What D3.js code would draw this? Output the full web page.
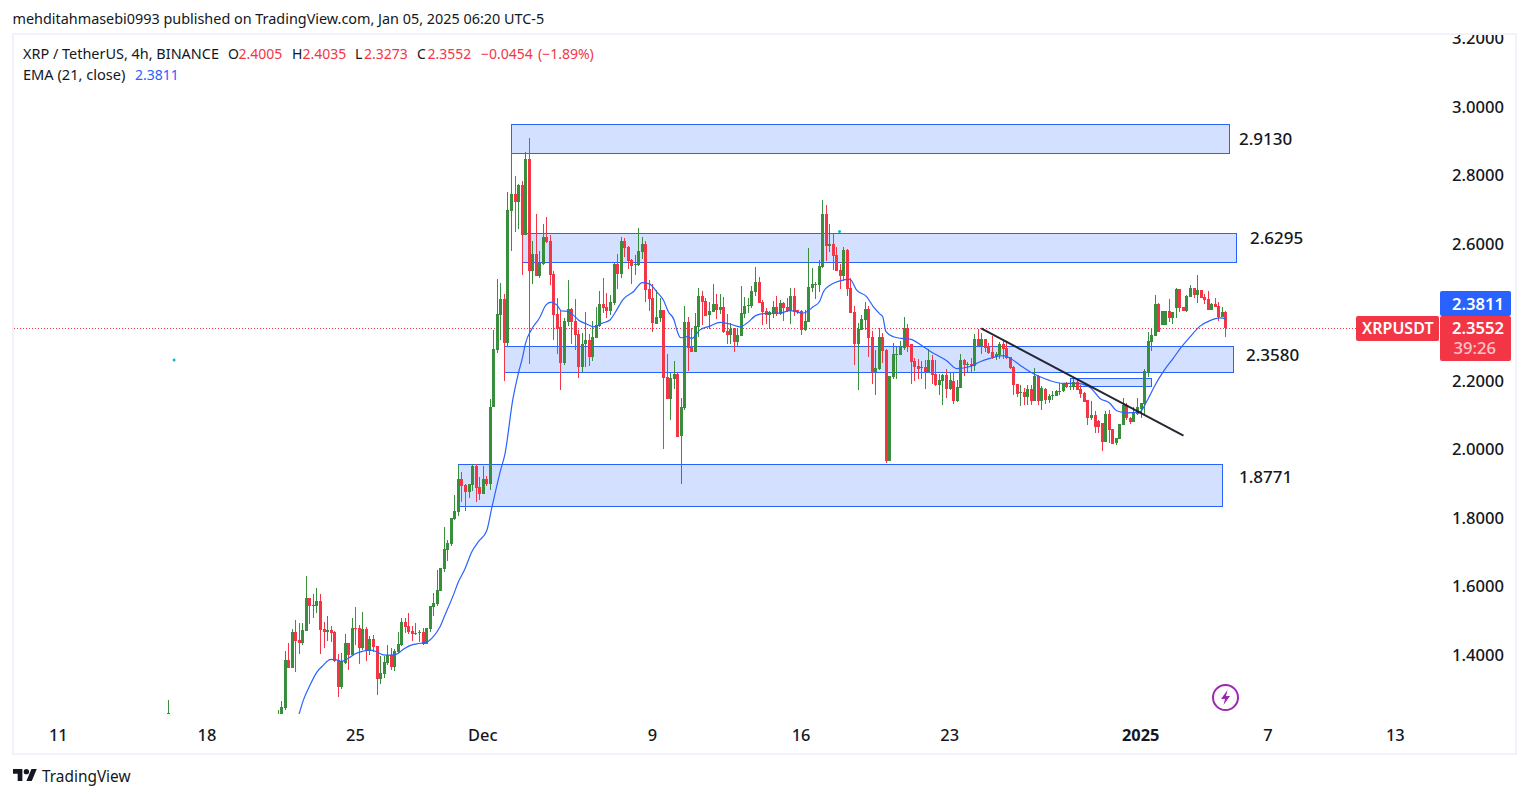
<!DOCTYPE html>
<html><head><meta charset="utf-8">
<script src="https://cdn.jsdelivr.net/npm/d3@7/dist/d3.min.js"></script>
<style>
html,body{margin:0;padding:0;background:#fff;overflow:hidden}
svg{display:block}
text{font-family:"Noto Sans",sans-serif;fill:#131722}
</style></head><body>
<svg id="c" width="1529" height="798"></svg>
<script>
// open, high, low, close per 4h bar, numbered 1..269 (bar 269 opened Jan 5 03:00 UTC-5)
const barsNov=[[1.20,1.240,1.19,1.21],[1.20,1.266,1.19,1.248],[1.247,1.412,1.240,1.386],[1.386,1.435,1.364,1.364],[1.364,1.475,1.364,1.468],[1.468,1.502,1.352,1.441],[1.444,1.494,1.404,1.436],[1.436,1.494,1.431,1.473],[1.471,1.631,1.471,1.567],[1.567,1.567,1.491,1.543],
[1.544,1.578,1.509,1.545],[1.544,1.595,1.523,1.558],[1.558,1.578,1.404,1.473],[1.476,1.497,1.421,1.468],[1.468,1.513,1.441,1.473],[1.473,1.485,1.438,1.465],[1.468,1.470,1.381,1.383],[1.386,1.403,1.278,1.307],[1.307,1.405,1.302,1.382],[1.377,1.461,1.374,1.436],
[1.436,1.436,1.357,1.400],[1.400,1.508,1.400,1.479],[1.479,1.540,1.430,1.476],[1.479,1.488,1.374,1.421],[1.421,1.526,1.415,1.476],[1.476,1.483,1.383,1.412],[1.412,1.456,1.400,1.447],[1.447,1.459,1.409,1.424],[1.427,1.427,1.284,1.331],[1.331,1.398,1.316,1.348],
[1.345,1.398,1.333,1.380],[1.376,1.430,1.371,1.400],[1.400,1.421,1.357,1.365],[1.365,1.418,1.354,1.412],[1.408,1.468,1.405,1.433],[1.430,1.508,1.427,1.497],[1.497,1.508,1.465,1.482],[1.485,1.523,1.462,1.468],[1.470,1.485,1.441,1.462],[1.465,1.494,1.459,1.462],
[1.465,1.473,1.438,1.469],[1.468,1.479,1.430,1.433],[1.434,1.479,1.433,1.479],[1.476,1.544,1.468,1.543],[1.541,1.580,1.514,1.552],[1.549,1.649,1.543,1.590],[1.587,1.654,1.587,1.654],[1.651,1.773,1.644,1.710],[1.707,1.736,1.675,1.727],[1.724,1.800,1.719,1.800],
[1.797,1.867,1.794,1.821],[1.818,1.955,1.806,1.914],[1.914,1.934,1.847,1.894],[1.896,1.899,1.821,1.876],[1.876,1.899,1.859,1.899],[1.896,1.958,1.879,1.952],[1.952,1.958,1.847,1.888],[1.891,1.919,1.853,1.870]];
const barsDecA=[[1.870,1.952,1.870,1.914],[1.914,1.923,1.894,1.899],[1.899,2.147,1.882,2.124],[2.125,2.349,2.125,2.293],[2.290,2.497,2.282,2.395],[2.392,2.486,2.319,2.439],[2.439,2.454,2.200,2.311],[2.311,2.751,2.300,2.699],[2.697,2.868,2.579,2.745],[2.745,2.798,2.635,2.722],
[2.722,2.775,2.643,2.772],[2.772,2.783,2.509,2.626],[2.626,2.868,2.626,2.847],[2.847,2.909,2.249,2.521],[2.521,2.608,2.483,2.570],[2.570,2.687,2.506,2.506],[2.506,2.579,2.500,2.545],[2.541,2.658,2.538,2.620],[2.620,2.678,2.601,2.605],[2.608,2.626,2.480,2.509],
[2.512,2.521,2.319,2.392],[2.395,2.442,2.279,2.352],[2.357,2.407,2.174,2.252],[2.252,2.384,2.246,2.375],[2.372,2.494,2.360,2.410],[2.410,2.413,2.308,2.372],[2.375,2.439,2.290,2.334],[2.337,2.349,2.209,2.241],[2.241,2.339,2.226,2.308],[2.308,2.401,2.241,2.319],
[2.319,2.337,2.244,2.270],[2.270,2.375,2.258,2.328],[2.325,2.416,2.325,2.363],[2.360,2.462,2.357,2.424],[2.424,2.500,2.398,2.413],[2.416,2.457,2.384,2.404],[2.404,2.451,2.392,2.430],[2.427,2.544,2.422,2.541],[2.541,2.570,2.468,2.512],[2.512,2.620,2.500,2.608],
[2.608,2.617,2.562,2.588],[2.591,2.594,2.526,2.550],[2.553,2.556,2.483,2.535],[2.537,2.567,2.509,2.541],[2.538,2.646,2.535,2.579],[2.576,2.620,2.556,2.600],[2.600,2.608,2.430,2.465],[2.468,2.494,2.404,2.439],[2.442,2.483,2.343,2.369],[2.366,2.465,2.366,2.386],
[2.384,2.442,2.372,2.407],[2.407,2.407,2.001,2.209],[2.212,2.279,2.147,2.147],[2.147,2.223,2.086,2.209],[2.206,2.258,2.177,2.220],[2.220,2.223,2.037,2.037],[2.039,2.149,1.899,2.124],[2.121,2.419,2.115,2.372],[2.372,2.387,2.229,2.296],[2.299,2.354,2.284,2.284],
[2.284,2.398,2.284,2.360],[2.357,2.471,2.328,2.448],[2.448,2.462,2.363,2.430],[2.433,2.442,2.389,2.389],[2.392,2.430,2.352,2.404],[2.401,2.483,2.401,2.424],[2.424,2.454,2.381,2.407],[2.407,2.454,2.395,2.416],[2.416,2.445,2.340,2.343],[2.346,2.395,2.308,2.334],
[2.334,2.369,2.308,2.352],[2.354,2.354,2.284,2.314],[2.314,2.352,2.302,2.334],[2.331,2.477,2.331,2.398],[2.395,2.445,2.384,2.419],[2.420,2.442,2.398,2.421],[2.419,2.477,2.413,2.462],[2.459,2.532,2.448,2.489],[2.489,2.503,2.427,2.427],[2.430,2.436,2.363,2.401],
[2.404,2.413,2.366,2.392],[2.392,2.404,2.352,2.401]];
const barsDecB=[[2.395,2.433,2.384,2.416],[2.416,2.448,2.389,2.395],[2.395,2.436,2.392,2.427],[2.427,2.430,2.375,2.413],[2.416,2.442,2.401,2.404],[2.404,2.471,2.366,2.448],[2.448,2.471,2.389,2.401],[2.407,2.407,2.395,2.401],[2.404,2.407,2.334,2.349],[2.349,2.407,2.346,2.375],
[2.372,2.588,2.372,2.474],[2.471,2.530,2.459,2.483],[2.480,2.489,2.439,2.483],[2.480,2.553,2.459,2.535],[2.532,2.728,2.530,2.687],[2.687,2.713,2.550,2.594],[2.594,2.658,2.576,2.600],[2.600,2.629,2.524,2.565],[2.567,2.591,2.521,2.521],[2.524,2.541,2.468,2.506],
[2.506,2.591,2.491,2.582],[2.582,2.585,2.448,2.468],[2.471,2.500,2.398,2.398],[2.401,2.419,2.246,2.308],[2.308,2.368,2.174,2.352],[2.349,2.392,2.349,2.381],[2.378,2.430,2.349,2.410],[2.410,2.419,2.270,2.325],[2.328,2.346,2.191,2.226],[2.226,2.290,2.159,2.238],
[2.235,2.354,2.232,2.328],[2.328,2.340,2.252,2.287],[2.290,2.293,1.961,1.966],[1.966,2.214,1.966,2.214],[2.212,2.311,2.206,2.279],[2.276,2.300,2.206,2.279],[2.276,2.317,2.276,2.299],[2.296,2.387,2.290,2.354],[2.354,2.366,2.284,2.299],[2.308,2.308,2.191,2.255],
[2.258,2.267,2.200,2.241],[2.244,2.264,2.206,2.235],[2.238,2.258,2.206,2.241],[2.241,2.261,2.177,2.226],[2.226,2.293,2.226,2.261],[2.261,2.276,2.191,2.217],[2.220,2.261,2.185,2.188],[2.188,2.220,2.159,2.203],[2.200,2.220,2.130,2.217],[2.217,2.235,2.150,2.177],
[2.177,2.223,2.174,2.203],[2.200,2.223,2.133,2.142],[2.142,2.203,2.139,2.182],[2.179,2.279,2.179,2.261],[2.261,2.264,2.214,2.246],[2.246,2.255,2.226,2.249],[2.249,2.267,2.226,2.245],[2.244,2.337,2.229,2.322],[2.322,2.352,2.302,2.302],[2.302,2.340,2.279,2.322],
[2.322,2.322,2.284,2.296],[2.302,2.311,2.279,2.282],[2.284,2.331,2.264,2.270],[2.270,2.284,2.261,2.279],[2.276,2.314,2.264,2.308],[2.308,2.319,2.264,2.293],[2.296,2.317,2.264,2.267],[2.270,2.270,2.235,2.238],[2.241,2.244,2.159,2.188],[2.191,2.191,2.153,2.162],
[2.165,2.188,2.127,2.168],[2.168,2.179,2.130,2.153],[2.153,2.188,2.130,2.176],[2.176,2.188,2.130,2.141],[2.141,2.238,2.141,2.214],[2.214,2.217,2.130,2.141],[2.141,2.185,2.115,2.179],[2.176,2.179,2.133,2.144],[2.144,2.162,2.136,2.156],[2.156,2.171,2.144,2.159],
[2.156,2.174,2.156,2.171],[2.169,2.193,2.159,2.172],[2.171,2.195,2.168,2.191],[2.191,2.197,2.179,2.182],[2.183,2.188,2.174,2.185],[2.183,2.209,2.174,2.197],[2.197,2.209,2.174,2.174],[2.176,2.188,2.150,2.162],[2.165,2.168,2.138,2.138],[2.144,2.144,2.071,2.092],
[2.092,2.141,2.086,2.101],[2.101,2.112,2.048,2.066],[2.083,2.086,2.048,2.066],[2.077,2.077,1.996,2.022],[2.022,2.112,2.022,2.104],[2.104,2.115,2.019,2.057],[2.060,2.060,2.016,2.016],[2.019,2.034,2.013,2.034],[2.031,2.074,2.031,2.074],[2.071,2.150,2.071,2.130],
[2.130,2.136,2.086,2.092],[2.092,2.095,2.074,2.080],[2.080,2.124,2.080,2.109],[2.104,2.150,2.101,2.124]];
const barsJan=[[2.118,2.136,2.092,2.136],[2.133,2.235,2.104,2.229],[2.225,2.343,2.211,2.317],[2.314,2.354,2.287,2.334],[2.331,2.451,2.331,2.424],[2.424,2.426,2.343,2.343],[2.363,2.404,2.363,2.404],[2.363,2.404,2.363,2.404],[2.404,2.439,2.372,2.384],[2.384,2.401,2.366,2.401],
[2.413,2.471,2.384,2.468],[2.468,2.468,2.401,2.413],[2.416,2.416,2.404,2.404],[2.404,2.451,2.401,2.448],[2.445,2.480,2.445,2.471],[2.471,2.471,2.442,2.451],[2.451,2.509,2.427,2.465],[2.465,2.465,2.442,2.442],[2.445,2.454,2.424,2.436],[2.439,2.462,2.407,2.407],
[2.407,2.426,2.407,2.424],[2.424,2.442,2.416,2.416],[2.419,2.430,2.375,2.386],[2.386,2.416,2.386,2.401],[2.4005,2.4035,2.3273,2.3552]];
const strayBarNumber=-30, strayBar=[1.20,1.269,1.19,1.23];

const emaBarNumbers=[6.94,8.17,10.05,11.94,13.82,15.7,16.93,18.91,20.89,22.96,25.13,27,28.9,30.8,32.67,34.55,36.44,38.3,40.2,43,44.9,46.8,48.2,50.6,52,53.9,55.8,57.65,60,61.4,63.8,65.2,67.35,68.95,70.18,70.93,72.72,74.89,76.77,78.19,79.79,81.2,83.09,84.5,85.92,88.27,90.16,92.51,94.87,96.28,98.64,101.47,104.01,105.99,108.07,109.95,111.36,112.97,113.91,114.85,116.74,117.96,120.3,123.14,125.97,128.8,131.6,133.5,136.34,139.17,142.9,145.76,149.5,152.36,154.06,155.2,157.5,159.9,162.7,164.6,167.4,169.3,171.2,171.96,172.9,175,177.3,179.7,183.46,186.3,190.06,192.9,196.66,199.5,202.3,206.1,208,210.8,213.6,216.44,219.27,223.04,226.8,230.6,233.4,236.2,238.1,240.95,244.7,246.6,249,251.3,254.1,256.5,258.9,261.7,264.5,267.3,269];
const emaValues=[1.228,1.269,1.313,1.350,1.371,1.387,1.388,1.382,1.391,1.405,1.412,1.415,1.410,1.401,1.400,1.403,1.417,1.428,1.433,1.438,1.454,1.483,1.517,1.576,1.614,1.653,1.702,1.731,1.763,1.828,1.935,1.989,2.144,2.222,2.271,2.308,2.351,2.383,2.422,2.430,2.422,2.404,2.403,2.392,2.378,2.366,2.358,2.368,2.378,2.399,2.439,2.460,2.487,2.483,2.460,2.436,2.402,2.378,2.344,2.326,2.329,2.324,2.349,2.360,2.371,2.366,2.358,2.368,2.392,2.397,2.398,2.405,2.398,2.417,2.431,2.460,2.482,2.492,2.496,2.465,2.446,2.417,2.395,2.387,2.344,2.329,2.324,2.322,2.300,2.281,2.259,2.236,2.242,2.256,2.266,2.274,2.266,2.246,2.227,2.212,2.201,2.193,2.193,2.181,2.149,2.135,2.113,2.107,2.110,2.140,2.188,2.227,2.266,2.300,2.329,2.360,2.376,2.384,2.3811];

const zoneLabels=["2.9130","2.6295","2.3580","1.8771"];
const zoneTops=[2.948,2.6301,2.3019,1.9562,2.2077];
const zoneBottoms=[2.8635,2.5458,2.2245,1.835,2.1832];
const zoneStartBars=[67,70,65,52,225];
const zoneEndBars=[269.9,272,271.1,268,248];
const trendBars=[199.8,257], trendPrices=[2.3535,2.0403];
const dotBars=[-28.4,159.75], dotPrices=[2.261,2.636];
const priceTicks=[1.4,1.6,1.8,2.0,2.2,2.6,2.8,3.0,3.2];
const timeTicks=["2024-11-11","2024-11-18","2024-11-25","2024-12-01","2024-12-09","2024-12-16","2024-12-23","2025-01-01","2025-01-07","2025-01-13"];
const timeTickLabels=["11","18","25","Dec","9","16","23","2025","7","13"];

const bars=[...barsNov,...barsDecA,...barsDecB,...barsJan].map((r,i)=>({n:i+1,o:r[0],h:r[1],l:r[2],c:r[3]}));
bars.unshift({n:strayBarNumber,o:strayBar[0],h:strayBar[1],l:strayBar[2],c:strayBar[3]});

const lastOpen=Date.UTC(2025,0,5,3);
const H4=4*3600*1000;
const barDate=n=>new Date(lastOpen-(269-n)*H4);
const x=d3.scaleUtc().domain([new Date(Date.UTC(2024,10,11)),new Date(lastOpen)]).range([56.1,1225.9]);
const y=d3.scaleLinear().domain([2,3]).range([449.5,106.7]);
const X=n=>x(barDate(n));
const px=n=>Math.floor(X(n));

const svg=d3.select("#c");
const defs=svg.append("defs");
defs.append("clipPath").attr("id","plot").append("rect").attr("x",14).attr("y",35).attr("width",1424).attr("height",679);
defs.append("clipPath").attr("id","pane").append("rect").attr("x",14).attr("y",35).attr("width",1501).attr("height",718);

const GREEN="#388e3c",RED="#f23645",BLUE="#2962ff";

// header
svg.append("text").attr("x",12.5).attr("y",24).attr("font-size",14.4).text("mehditahmasebi0993 published on TradingView.com, Jan 05, 2025 06:20 UTC-5");
// frame
svg.append("rect").attr("x",13).attr("y",34).attr("width",1503).attr("height",720).attr("fill","#fff").attr("stroke","#f0f3fa").attr("stroke-width",2);

const plot=svg.append("g").attr("clip-path","url(#plot)");
// zones
plot.selectAll("rect.zone").data(zoneTops).join("rect").attr("class","zone")
 .attr("x",(d,i)=>Math.floor(X(zoneStartBars[i]))+.5)
 .attr("y",d=>Math.floor(y(d))+.5)
 .attr("width",(d,i)=>Math.floor(X(zoneEndBars[i]))-Math.floor(X(zoneStartBars[i])))
 .attr("height",(d,i)=>Math.floor(y(zoneBottoms[i]))-Math.floor(y(d)))
 .attr("fill","#d4e0ff").attr("stroke",BLUE).attr("stroke-width",1);
// price line
plot.append("line").attr("x1",14).attr("x2",1438).attr("y1",Math.round(y(2.3552))+.5).attr("y2",Math.round(y(2.3552))+.5)
 .attr("stroke",RED).attr("stroke-width",1).attr("stroke-dasharray","1 2");
// candles
const g=plot.selectAll("g.bar").data(bars).join("g").attr("class","bar");
g.append("rect").attr("x",d=>px(d.n)).attr("width",1)
 .attr("y",d=>Math.round(y(d.h))).attr("height",d=>Math.max(1,Math.round(y(d.l))-Math.round(y(d.h))))
 .attr("fill",d=>d.c>=d.o?GREEN:RED);
g.append("rect").attr("x",d=>px(d.n)-1).attr("width",3)
 .attr("y",d=>Math.round(y(Math.max(d.o,d.c)))).attr("height",d=>Math.max(1,Math.abs(Math.round(y(d.o))-Math.round(y(d.c)))))
 .attr("fill",d=>d.c>=d.o?GREEN:RED);
// EMA
plot.append("path").attr("fill","none").attr("stroke",BLUE).attr("stroke-width",1.2)
 .attr("d",d3.line().x(d=>X(d)).y((d,i)=>y(emaValues[i])).curve(d3.curveMonotoneX)(emaBarNumbers));
// trend line
plot.append("path").attr("stroke","#131722").attr("stroke-opacity",.92).attr("stroke-width",2).attr("fill","none")
 .attr("d",d3.line().x(d=>X(d)).y((d,i)=>y(trendPrices[i]))(trendBars));
// dots
plot.selectAll("circle.dot").data(dotBars).join("circle").attr("class","dot")
 .attr("cx",d=>X(d)).attr("cy",(d,i)=>y(dotPrices[i])).attr("r",1.5).attr("fill","#00bcd4");

// zone labels
const labelXs=[1239,1250,1246,1239],labelYs=[145,243.5,360.5,482.5];
svg.selectAll("text.zl").data(zoneLabels).join("text").attr("class","zl")
 .attr("x",(d,i)=>labelXs[i]).attr("y",(d,i)=>labelYs[i]).attr("font-size",17).attr("font-weight",500).text(d=>d);

// axes
const ya=svg.append("g").attr("clip-path","url(#pane)").append("g").attr("transform","translate(1504,0)")
 .call(d3.axisRight(y).tickValues(priceTicks).tickSize(0).tickPadding(0).tickFormat(d3.format(".4f")));
ya.select(".domain").remove();
ya.selectAll("text").attr("text-anchor","end").attr("dy",".32em").attr("font-size",16.6).attr("font-weight",500).attr("font-family",'"Noto Sans",sans-serif').attr("fill","#131722");
const xa=svg.append("g").attr("transform","translate(0,729)")
 .call(d3.axisBottom(x).tickValues(timeTicks.map(s=>new Date(s+"T02:00:00Z"))).tickSize(0).tickPadding(0).tickFormat((d,i)=>timeTickLabels[i]));
xa.select(".domain").remove();
xa.selectAll("text").attr("font-size",16.4).attr("font-weight",(d,i)=>timeTickLabels[i]==="2025"?700:500).attr("font-family",'"Noto Sans",sans-serif').attr("fill","#131722");

// legend
const lg=svg.append("g").attr("font-size",14);
const leg1=[[23,"XRP / TetherUS, 4h, BINANCE","#131722",14.45],[228,"O","#131722",14],[238.5,"2.4005",RED,14],[292,"H","#131722",14],[302.5,"2.4035",RED,14],[355,"L","#131722",14],[364,"2.3273",RED,14],[417,"C","#131722",14],[427.5,"2.3552",RED,14],[481,"−0.0454",RED,14],[538,"(−1.89%)",RED,14]];
leg1.forEach(([lx,t,c,s])=>lg.append("text").attr("x",lx).attr("y",59).attr("font-size",s).style("fill",c).text(t));
lg.append("text").attr("x",23).attr("y",80).attr("font-size",14.6).text("EMA (21, close)");
lg.append("text").attr("x",135).attr("y",80).style("fill",BLUE).text("2.3811");

// price labels
function box(bx,by,w,h,c){svg.append("rect").attr("x",bx).attr("y",by).attr("width",w).attr("height",h).attr("rx",2).attr("fill",c);}
box(1440,291,71,25,BLUE);
box(1356,316,83,25,RED);
box(1440,316,71,45,RED);
const tl=(tx,ty,t,op,w,s)=>svg.append("text").attr("x",tx).attr("y",ty).attr("text-anchor","end").attr("font-size",s||16.6).attr("font-weight",w||600).style("fill","#fff").style("opacity",op).text(t);
tl(1504,309.5,"2.3811",1);
tl(1433.5,334,"XRPUSDT",1,600,16);
tl(1504,334,"2.3552",1);
tl(1496,354,"39:26",.7,500);

// lightning
svg.append("circle").attr("cx",1225.5).attr("cy",697.5).attr("r",12.5).attr("fill","#fff").attr("stroke","#9c27b0").attr("stroke-width",2);
svg.append("path").attr("d","M1227.5 690L1221 699H1225L1223.5 705L1230 696H1226Z").attr("fill","#9c27b0");

// logo
svg.append("g").attr("transform","translate(13,766.3) scale(.67)").append("path")
 .attr("d","M14 22H7V11H0V4h14v18zM28 22h-8l7.5-18h8L28 22zM24 8a4 4 0 1 1-8 0a4 4 0 0 1 8 0z").attr("fill","#131722");
svg.append("text").attr("x",42).attr("y",782).attr("font-size",15.4).text("TradingView");
</script></body></html>
